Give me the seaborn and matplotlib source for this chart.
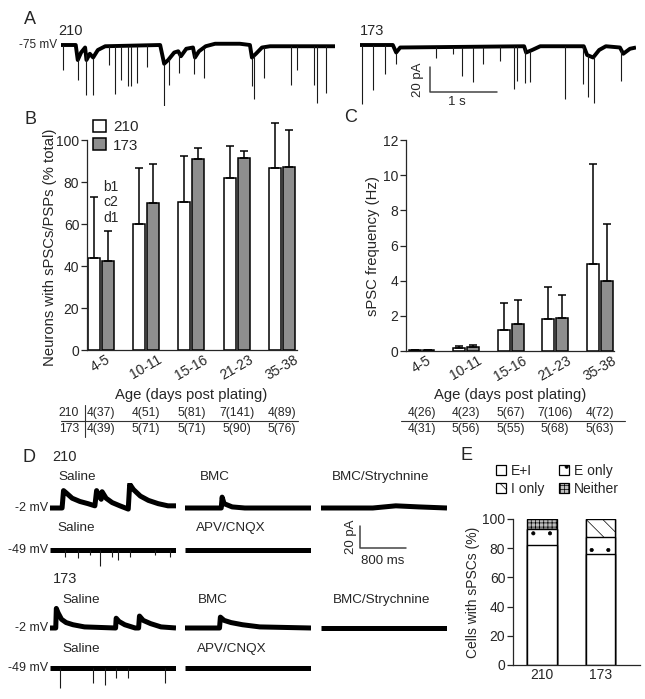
import numpy as np
import pandas as pd
import matplotlib
matplotlib.use('Agg')
import matplotlib.pyplot as plt
import seaborn as sns
from matplotlib.patches import Patch
from matplotlib.lines import Line2D
from matplotlib.transforms import blended_transform_factory

# ---------------- data ----------------
ages = ['4-5', '10-11', '15-16', '21-23', '35-38']
lines = ['210', '173']

# B: neurons with sPSCs/PSPs (% total), mean and upper error
pct_210 = [44, 60, 70.5, 82, 86.5]
pct_173 = [42.5, 70, 91, 91.5, 87]
pct_err_210 = [29, 26.5, 22, 15, 21.5]
pct_err_173 = [14, 18.5, 5, 3.5, 18]
n_pct_210 = ['4(37)', '4(51)', '5(81)', '7(141)', '4(89)']
n_pct_173 = ['4(39)', '5(71)', '5(71)', '5(90)', '5(76)']

# C: sPSC frequency (Hz)
freq_210 = [0.05, 0.15, 1.2, 1.82, 4.97]
freq_173 = [0.04, 0.2, 1.52, 1.85, 3.98]
freq_err_210 = [0.02, 0.13, 1.55, 1.8, 5.65]
freq_err_173 = [0.01, 0.12, 1.36, 1.32, 3.22]
n_freq_210 = ['4(26)', '4(23)', '5(67)', '7(106)', '4(72)']
n_freq_173 = ['4(31)', '5(56)', '5(55)', '5(68)', '5(63)']

# E: cells with sPSCs (%) by type
types = ['E+I', 'E only', 'I only', 'Neither']
e_210 = [82, 11, 0, 7]
e_173 = [76, 12, 12, 0]

# A: voltage-clamp traces at -75 mV (time s, current pA)
a210_t = [0, 0.22, 0.25, 0.30, 0.36, 0.38, 0.43, 0.48, 0.55, 0.66, 1.48, 1.54, 1.60, 1.69,
          1.75, 1.79, 1.87, 1.97, 2.00, 2.06, 2.16, 2.30, 2.67, 2.82, 2.85, 2.91, 3.00, 3.12, 4.09]
a210_i = [0, 0, -12, -6, -2, -12, -7, -10, -4, -1, 0, -15, -12, -6,
          -5, -9, -3, -2, -10, -5, -1, 1, 1, 0, -10, -7, -2, -1, -1]
a210_evt_t = [0.03, 0.26, 0.37, 0.48, 0.72, 0.81, 0.90, 1.00, 1.04, 1.13, 1.28, 1.54, 1.61,
              1.76, 1.99, 2.13, 2.85, 2.88, 3.03, 3.44, 3.52, 3.78, 3.82, 3.96]
a210_evt_a = [-20, -17, -33, -30, -15, -38, -27, -32, -32, -30, -17, -47, -21,
              -16, -16, -24, -23, -35, -25, -31, -19, -31, -45, -37]
a173_t = [0, 0.49, 0.54, 0.60, 2.45, 2.48, 2.57, 2.69, 3.34, 3.39, 3.48, 3.57, 3.67,
          3.88, 3.93, 4.03, 4.12]
a173_i = [0, 0, -6, -2, -1, -6, -4, -1, -1, -8, -10, -4, -1, -2, -7, -3, -2]
a173_evt_t = [0.03, 0.20, 0.38, 0.54, 1.14, 1.39, 1.52, 1.69, 1.84, 2.09, 2.30, 2.34, 2.46,
              2.54, 3.06, 3.33, 3.40, 3.49, 3.90]
a173_evt_a = [-47, -36, -23, -9, -9, -6, -23, -28, -14, -12, -34, -28, -28,
              -25, -42, -30, -33, -37, -25]

# D: traces (time ms, current pA)
d210_sal_pos_t = [0, 210, 235, 280, 385, 520, 660, 780, 810, 850, 890, 905, 975, 1080, 1215,
                  1360, 1385, 1450, 1570, 1710, 1880, 2050, 2190]
d210_sal_pos_i = [0, 0, 16, 14, 9, 6, 4, 2, 16, 11, 8, 15, 9, 5, 2, -1, 22, 17, 11, 7, 4, 2, 2]
d210_bmc_t = [0, 630, 645, 680, 820, 1040, 2190]
d210_bmc_i = [0, 0, 10, 4, 1, 0, 0]
d210_str_t = [0, 900, 1300, 1700, 2190]
d210_str_i = [0, 0, 2, 1, 0]
d210_sal_neg_evt_t = [260, 490, 700, 870, 1080, 1180, 1390, 1830, 2090]
d210_sal_neg_evt_a = [-6, -7, -5, -15, -6, -9, -6, -5, -6]
d173_sal_pos_t = [0, 100, 110, 140, 200, 280, 400, 600, 1140, 1150, 1200, 1300, 1480, 1540,
                  1555, 1620, 1750, 1930, 2190]
d173_sal_pos_i = [0, 0, 18, 14, 8, 5, 3, 1, 0, 9, 6, 3, 0, 0, 11, 7, 4, 1, 0]
d173_bmc_t = [0, 600, 615, 680, 800, 1000, 1300, 2190]
d173_bmc_i = [0, 0, 10, 7, 5, 3, 1, 0]
d173_sal_neg_evt_t = [170, 750, 950, 1150, 1360, 2000]
d173_sal_neg_evt_a = [-18, -14, -16, -9, -9, -14]
flat_t = [0, 2190]
flat_i = [0, 0]

# ---------------- style ----------------
sns.set_style('ticks')
plt.rcParams['font.family'] = ['Liberation Sans', 'DejaVu Sans']
plt.rcParams['hatch.linewidth'] = 0.5
grey = '#8e8e8e'

W, H = 645, 699
fig = plt.figure(figsize=(W / 100, H / 100), dpi=100)


def px_axes(l, t, r, b):
    return fig.add_axes([l / W, 1 - b / H, (r - l) / W, (b - t) / H])


def ptext(x, y, s, **kw):
    kw.setdefault('va', 'center')
    fig.text(x / W, 1 - y / H, s, **kw)


def pline(x0, y0, x1, y1, lw=0.8):
    fig.add_artist(Line2D([x0 / W, x1 / W], [1 - y0 / H, 1 - y1 / H], color='#333333', lw=lw))


def trace(ax, t, v, spk_t=(), spk_a=(), lw=2.0):
    ax.plot(t, v, color='black', lw=lw, solid_joinstyle='round', solid_capstyle='butt')
    if len(spk_t):
        base = np.interp(spk_t, t, v)
        ax.vlines(spk_t, base, base + np.asarray(spk_a), color='#1a1a1a', lw=0.8)
    ax.set_axis_off()


def style_bar_axes(ax):
    sns.despine(ax=ax)
    ax.tick_params(axis='y', direction='out', length=4, width=0.9, pad=1.5, labelsize=10)
    ax.tick_params(axis='x', length=0, pad=2, labelsize=10)
    for s in ['left', 'bottom']:
        ax.spines[s].set_linewidth(0.9)
    ax.set_xlabel('')
    ax.set_ylabel('')


# ---------------- A ----------------
ptext(30, 19, 'A', fontsize=13, ha='center')
ptext(58, 31, '210', fontsize=10.5, ha='left')
ptext(360, 31, '173', fontsize=10.5, ha='left')
ptext(57, 45, '-75 mV', fontsize=8.5, ha='right')
ax_a1 = px_axes(61, 30, 335, 106)
trace(ax_a1, a210_t, a210_i, a210_evt_t, a210_evt_a, lw=2.8)
ax_a1.set_xlim(0, 4.09)
ax_a1.set_ylim(-48.8, 12)
ax_a2 = px_axes(360, 30, 636, 106)
trace(ax_a2, a173_t, a173_i, a173_evt_t, a173_evt_a, lw=2.8)
ax_a2.set_xlim(0, 4.12)
ax_a2.set_ylim(-48.8, 12)
ax_a2.plot([1.045, 1.045, 2.045], [-17.6, -37.6, -37.6], color='#444444', lw=1.1)
ptext(418, 80, '20 pA', fontsize=9.5, rotation=90, ha='center')
ptext(457, 102, '1 s', fontsize=9.5, ha='center')

# ---------------- B ----------------
df_b = pd.DataFrame({'age': ages * 2, 'line': ['210'] * 5 + ['173'] * 5,
                     'pct': pct_210 + pct_173})
ax_b = px_axes(87, 119, 297, 350)
sns.barplot(data=df_b, x='age', y='pct', hue='line', order=ages, hue_order=lines,
            palette={'210': 'white', '173': grey}, saturation=1, edgecolor='black',
            linewidth=1.1, width=0.62, gap=0.14, errorbar=None, legend=False, ax=ax_b)
for cont, errs in zip(ax_b.containers, [pct_err_210, pct_err_173]):
    for bar, e in zip(cont, errs):
        ax_b.errorbar(bar.get_x() + bar.get_width() / 2, bar.get_height(), yerr=[[0], [e]],
                      color='black', lw=1.1, capsize=2.8, capthick=1.1)
ax_b.set_xlim(-0.30, 4.33)
ax_b.set_ylim(0, 110)
ax_b.set_yticks(range(0, 101, 20))
style_bar_axes(ax_b)
ax_b.spines['left'].set_bounds(0, 100)
ax_b.set_xticks(range(5))
ax_b.set_xticklabels(ages, rotation=30, ha='center')
ax_b.legend(handles=[Patch(fc='white', ec='black', lw=1.1), Patch(fc=grey, ec='black', lw=1.1)],
            labels=lines, loc='upper left', bbox_to_anchor=(93 / W, 1 - 120 / H),
            bbox_transform=fig.transFigure, frameon=False, fontsize=11, handlelength=0.85,
            handleheight=0.85, handletextpad=0.45, labelspacing=0.25, borderpad=0,
            borderaxespad=0)
ptext(31, 119, 'B', fontsize=13, ha='center')
ptext(50, 247, 'Neurons with sPSCs/PSPs (% total)', fontsize=10.7, rotation=90, ha='center')
ptext(191, 395, 'Age (days post plating)', fontsize=10.7, ha='center')
for k, s in enumerate(['b1', 'c2', 'd1']):
    ptext(103, 187 + 15.5 * k, s, fontsize=10, ha='left')
tb = blended_transform_factory(ax_b.transData, fig.transFigure)
for k in range(5):
    fig.text(k, 1 - 413 / H, n_pct_210[k], transform=tb, fontsize=8.7, ha='center', va='center')
    fig.text(k, 1 - 429 / H, n_pct_173[k], transform=tb, fontsize=8.7, ha='center', va='center')
ptext(79, 413, '210', fontsize=8.7, ha='right')
ptext(79, 429, '173', fontsize=8.7, ha='right')
pline(61, 421, 298, 421)
pline(84.5, 405, 84.5, 437)

# ---------------- C ----------------
df_c = pd.DataFrame({'age': ages * 2, 'line': ['210'] * 5 + ['173'] * 5,
                     'freq': freq_210 + freq_173})
ax_c = px_axes(406, 140, 614, 351)
sns.barplot(data=df_c, x='age', y='freq', hue='line', order=ages, hue_order=lines,
            palette={'210': 'white', '173': grey}, saturation=1, edgecolor='black',
            linewidth=1.1, width=0.62, gap=0.14, errorbar=None, legend=False, ax=ax_c)
for cont, errs in zip(ax_c.containers, [freq_err_210, freq_err_173]):
    for bar, e in zip(cont, errs):
        ax_c.errorbar(bar.get_x() + bar.get_width() / 2, bar.get_height(), yerr=[[0], [e]],
                      color='black', lw=1.1, capsize=2.8, capthick=1.1)
ax_c.set_xlim(-0.35, 4.32)
ax_c.set_ylim(0, 12)
ax_c.set_yticks(range(0, 13, 2))
style_bar_axes(ax_c)
ax_c.set_xticks(range(5))
ax_c.set_xticklabels(ages, rotation=30, ha='center')
ptext(351, 117, 'C', fontsize=13, ha='center')
ptext(373, 246, 'sPSC frequency (Hz)', fontsize=10.7, rotation=90, ha='center')
ptext(510, 395, 'Age (days post plating)', fontsize=10.7, ha='center')
tc = blended_transform_factory(ax_c.transData, fig.transFigure)
for k in range(5):
    fig.text(k, 1 - 413 / H, n_freq_210[k], transform=tc, fontsize=8.7, ha='center', va='center')
    fig.text(k, 1 - 429 / H, n_freq_173[k], transform=tc, fontsize=8.7, ha='center', va='center')
pline(401, 421, 625, 421)

# ---------------- D ----------------
ptext(29, 457, 'D', fontsize=13, ha='center')
ptext(52, 457, '210', fontsize=10.5, ha='left')
ptext(53, 579, '173', fontsize=10.5, ha='left')
cols = [(50, 176), (185, 311), (321, 447)]
rows = [
    (508, '-2 mV', [(d210_sal_pos_t, d210_sal_pos_i, (), ()), (d210_bmc_t, d210_bmc_i, (), ()),
                    (d210_str_t, d210_str_i, (), ())]),
    (550, '-49 mV', [(flat_t, flat_i, d210_sal_neg_evt_t, d210_sal_neg_evt_a),
                     (flat_t, flat_i, (), ())]),
    (628, '-2 mV', [(d173_sal_pos_t, d173_sal_pos_i, (), ()), (d173_bmc_t, d173_bmc_i, (), ()),
                    (flat_t, flat_i, (), ())]),
    (668, '-49 mV', [(flat_t, flat_i, d173_sal_neg_evt_t, d173_sal_neg_evt_a),
                     (flat_t, flat_i, (), ())]),
]
for base, vlab, items in rows:
    ptext(48, base, vlab, fontsize=9, ha='right')
    for (l, r), (t, v, st, sa) in zip(cols, items):
        ax = px_axes(l, base - 25, r, base + 25)
        ax.patch.set_alpha(0)
        trace(ax, t, v, st, sa, lw=3.6)
        ax.set_xlim(0, 2190)
        ax.set_ylim(-23, 23)

cond_labels = [
    (477, [(58, 'Saline'), (200, 'BMC'), (332, 'BMC/Strychnine')]),
    (528, [(57, 'Saline'), (196, 'APV/CNQX')]),
    (600, [(62, 'Saline'), (198, 'BMC'), (333, 'BMC/Strychnine')]),
    (649, [(62, 'Saline'), (197, 'APV/CNQX')]),
]
for y, labs in cond_labels:
    for x, s in labs:
        ptext(x, y, s, fontsize=9.7, ha='left')

# scale bar for D (drawn on an empty axes with the same scale as the traces)
ax_sb = px_axes(321, 525, 447, 575)
ax_sb.set_axis_off()
ax_sb.patch.set_alpha(0)
ax_sb.set_xlim(0, 2190)
ax_sb.set_ylim(-23, 23)
ax_sb.plot([679, 679, 1479], [21.8, 1.8, 1.8], color='#444444', lw=1.1)
ptext(351, 537, '20 pA', fontsize=9.5, rotation=90, ha='center')
ptext(383, 561, '800 ms', fontsize=9.5, ha='center')

# ---------------- E ----------------
ax_e = px_axes(513, 519, 640, 665)
fills = [('white', ''), ('white', '.'), ('white', '\\\\'), ('#bdbdbd', '++++')]
cum_210 = np.cumsum(e_210)
cum_173 = np.cumsum(e_173)
for k in reversed(range(len(types))):
    d = pd.DataFrame({'line': lines, 'pct': [cum_210[k], cum_173[k]]})
    fc, hatch = fills[k]
    sns.barplot(data=d, x='line', y='pct', order=lines, color=fc, saturation=1, hatch=hatch,
                edgecolor='black', linewidth=1.0, width=0.51, errorbar=None, ax=ax_e)
ax_e.set_xlim(-0.5, 1.68)
ax_e.set_ylim(0, 100)
ax_e.set_yticks(range(0, 101, 20))
style_bar_axes(ax_e)
ptext(466, 456, 'E', fontsize=13, ha='center')
ptext(473, 592, 'Cells with sPSCs (%)', fontsize=10, rotation=90, ha='center')
e_handles = [Patch(fc=fc, ec='black', lw=0.9, hatch=h) for fc, h in fills]
# legend is filled row-wise: E+I, E only / I only, Neither
order = [0, 2, 1, 3]
ax_e.legend(handles=[e_handles[i] for i in order], labels=[types[i] for i in order], ncol=2,
            loc='upper left', bbox_to_anchor=(496 / W, 1 - 464 / H),
            bbox_transform=fig.transFigure, frameon=False, fontsize=10, handlelength=0.75,
            handleheight=0.75, handletextpad=0.35, labelspacing=0.3, columnspacing=1.0,
            borderpad=0, borderaxespad=0)

fig.savefig('out.png', dpi=100)
